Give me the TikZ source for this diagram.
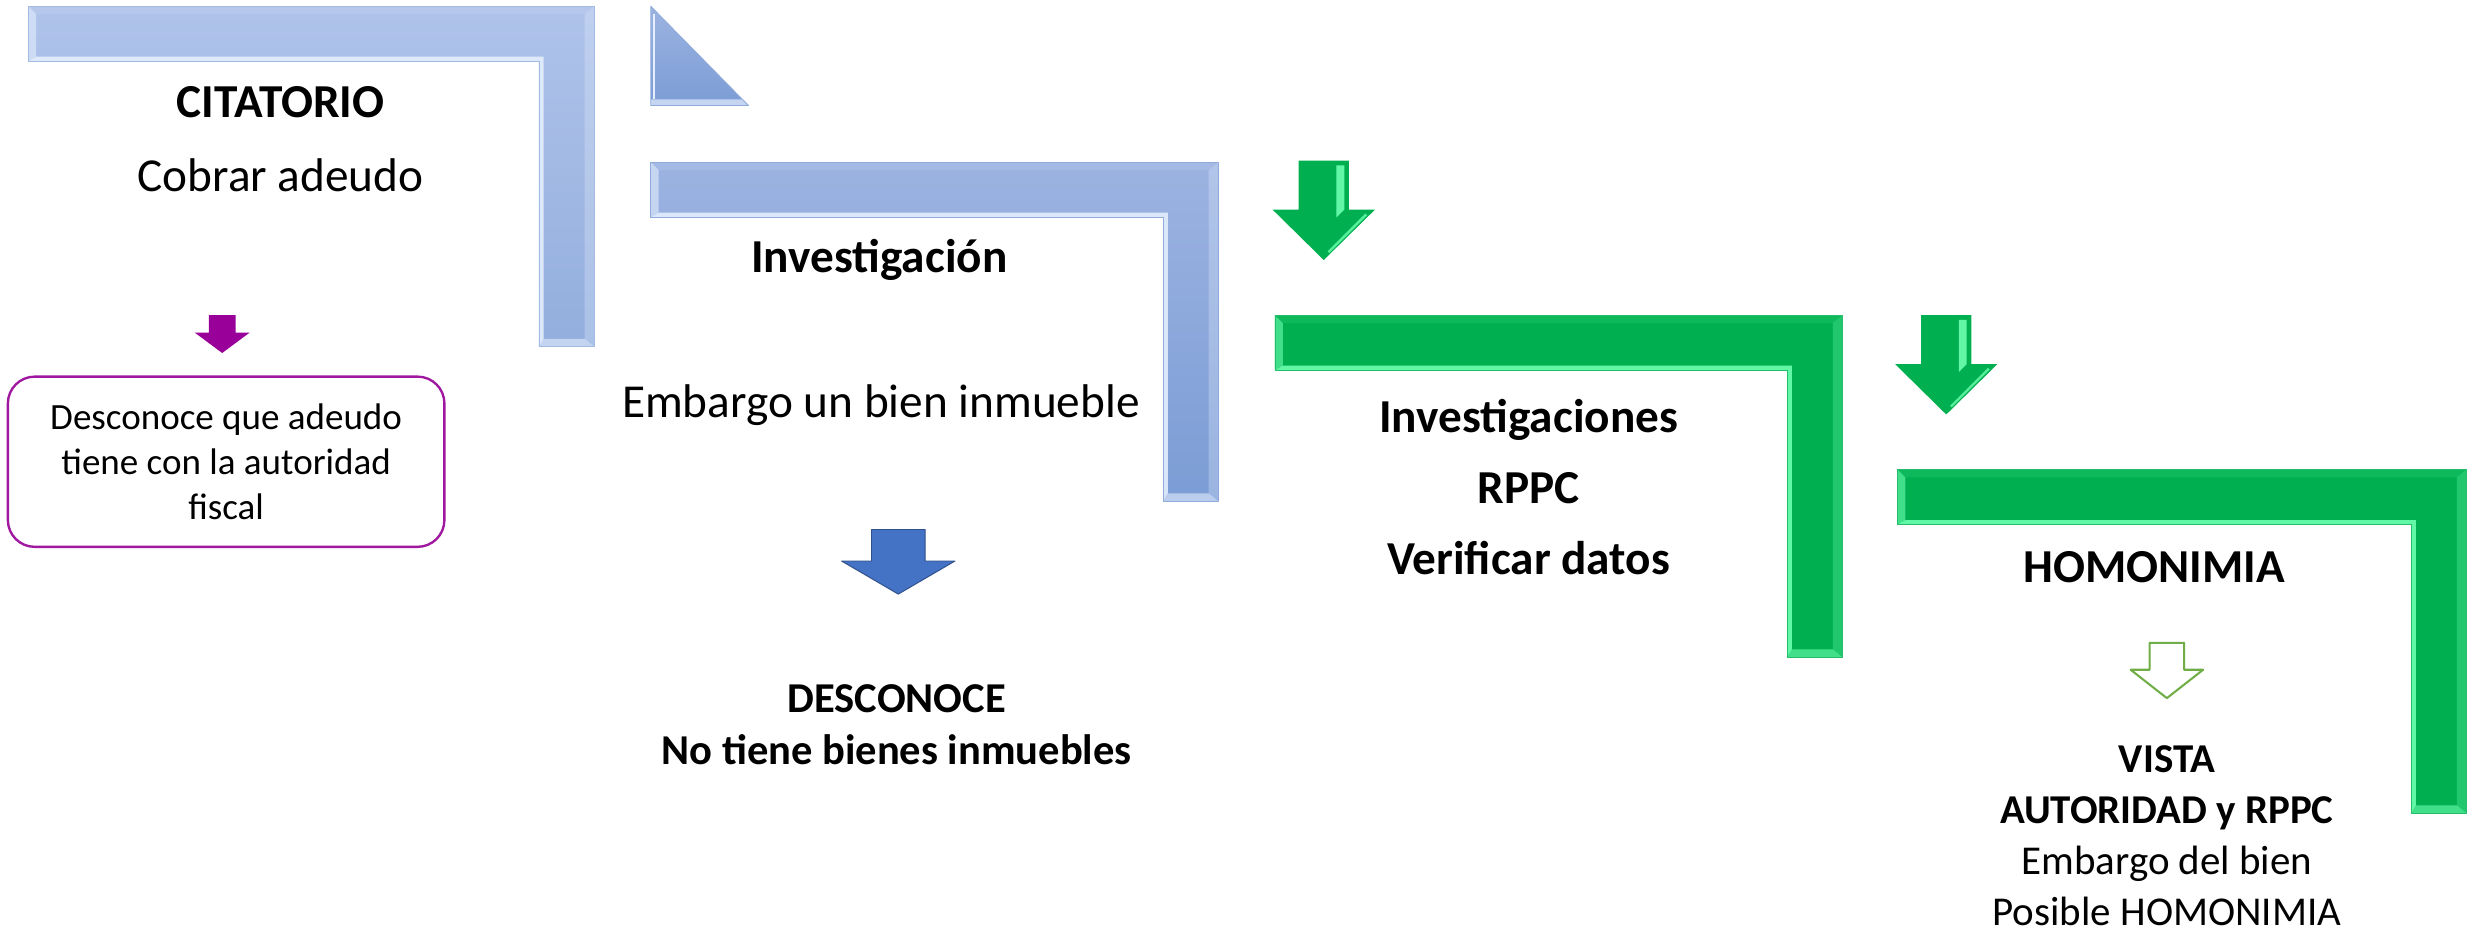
\documentclass[tikz,border=0pt]{standalone}
\usepackage{fontspec}
\setmainfont{Carlito}
\definecolor{paleblueA}{HTML}{AFC3EA}
\definecolor{paleblueB}{HTML}{93AEDD}
\definecolor{midblueA}{HTML}{9CB3E1}
\definecolor{midblueB}{HTML}{7B9CD5}
\definecolor{blueshine}{HTML}{E4EEFD}
\definecolor{arrowblue}{HTML}{4472C4}
\definecolor{fiscgreen}{HTML}{00B050}
\definecolor{greenshine}{HTML}{6DFFB0}
\definecolor{leafgreen}{HTML}{70AD47}
\definecolor{plum}{HTML}{990099}
\definecolor{plumline}{HTML}{A0189F}

% L-shaped bevelled bar: left, top, right, bottom, top colour, bottom colour, shine
\newcommand{\ellbar}[7]{%
  \path
    (#1,#2) coordinate (A) (#3,#2) coordinate (B) (#3,#4) coordinate (C)
    (#3-35,#4) coordinate (D) (#3-35,#2+35) coordinate (E) (#1,#2+35) coordinate (F)
    (#1+5,#2+5) coordinate (a) (#3-6,#2+5) coordinate (b) (#3-6,#4-5) coordinate (c)
    (#3-32,#4-5) coordinate (d) (#3-32,#2+32) coordinate (e) (#1+5,#2+32) coordinate (f);
  \shade[top color=#5, bottom color=#6] (A)--(B)--(C)--(D)--(E)--(F)--cycle;
  \fill[#7, opacity=.9] (F)--(E)--(e)--(f)--cycle (E)--(D)--(d)--(e)--cycle;
  \fill[#7, opacity=.6] (D)--(C)--(c)--(d)--cycle (F)--(A)--(a)--(f)--cycle;
  \fill[#7, opacity=.3] (B)--(C)--(c)--(b)--cycle;
  \fill[#7, opacity=.12] (A)--(B)--(b)--(a)--cycle;
  \draw[#6!85!white, line width=.5] (A)--(B)--(C)--(D)--(E)--(F)--cycle;
}
% block arrow pointing down: x, top, body half width, head half width, head y, tip y, style
\newcommand{\downblock}[7]{%
  \path[#7] (#1-#3,#2) -- (#1+#3,#2) -- (#1+#3,#5) -- (#1+#4,#5) -- (#1,#6)
    -- (#1-#4,#5) -- (#1-#3,#5) -- cycle;
}

\tikzset{
  headtxt/.style={font=\bfseries\fontsize{30}{36}\selectfont, inner sep=0pt},
  plaintxt/.style={font=\fontsize{30}{36}\selectfont, inner sep=0pt},
  notebox/.style={draw=plumline, line width=1.5, rounded corners=17, minimum width=277,
    minimum height=108, align=center, font=\fontsize{23.5}{28.5}\selectfont, inner sep=0pt},
}

\begin{document}
\begin{tikzpicture}[x=1pt, y=-1pt, line join=round]
\useasboundingbox (0,0) rectangle (1568,591);

% bars
\ellbar{18}{4}{377}{220}{paleblueA}{paleblueB}{blueshine}
\ellbar{413}{103}{773}{318}{midblueA}{midblueB}{blueshine}
\ellbar{809}{200}{1169}{417}{fiscgreen}{fiscgreen}{greenshine}
\ellbar{1204}{298}{1565}{516}{fiscgreen}{fiscgreen}{greenshine}

% corner triangle
\shade[top color=midblueA, bottom color=midblueB] (413,4) -- (413,67) -- (475,67) -- cycle;
\fill[blueshine, opacity=.7] (413,63) -- (472,63) -- (475,67) -- (413,67) -- cycle;
\draw[blueshine, line width=1.2] (415,9) -- (415,63);
\draw[midblueB!85!white, line width=.5] (413,4) -- (413,67) -- (475,67) -- cycle;

% arrows
\downblock{141}{200}{8.5}{17.5}{211}{224}{fill=plum}
\downblock{570}{336}{17}{36}{356}{377}{fill=arrowblue, draw=arrowblue!70!black, line width=.6}
\foreach \ax/\ay in {840/102, 1235/200}{
  \downblock{\ax}{\ay}{16}{32.5}{\ay+31}{\ay+63}{fill=fiscgreen}
  \fill[greenshine, opacity=.9] (\ax+8,\ay+3) -- (\ax+13,\ay+3) -- (\ax+13,\ay+31) -- (\ax+8,\ay+36) -- cycle;
  \draw[greenshine, opacity=.8, line width=1.5] (\ax+27,\ay+34) -- (\ax+3,\ay+58);
}
\downblock{1375}{408}{11}{23}{425}{443}{draw=leafgreen, line width=1.3, fill=white}

% texts
\node[headtxt] (citatorio) at (178,65) {CITATORIO};
\node[plaintxt] (cobrar) at (178,111) {Cobrar adeudo};
\node[notebox] (desconoce) at (143.5,293) {Desconoce que adeudo\\tiene con la autoridad\\fiscal};

\node[headtxt] (investigacion) at (558,165) {Investigación};
\node[plaintxt] (embargo) at (559,257) {Embargo un bien inmueble};
\node[headtxt, font=\bfseries\fontsize{27}{33}\selectfont, align=center] (sinbienes) at (569,460)
  {DESCONOCE\\No tiene bienes inmuebles};

\node[headtxt, font=\bfseries\fontsize{30}{45}\selectfont, align=center] (rppc) at (970,309)
  {Investigaciones\\RPPC\\Verificar datos};

\node[headtxt] (homonimia) at (1367,360) {HOMONIMIA};
\node[plaintxt, font=\fontsize{26}{32.3}\selectfont, align=center] (vista) at (1375,530.5)
  {\textbf{VISTA}\\\textbf{AUTORIDAD y RPPC}\\Embargo del bien\\Posible HOMONIMIA};
\end{tikzpicture}
\end{document}
